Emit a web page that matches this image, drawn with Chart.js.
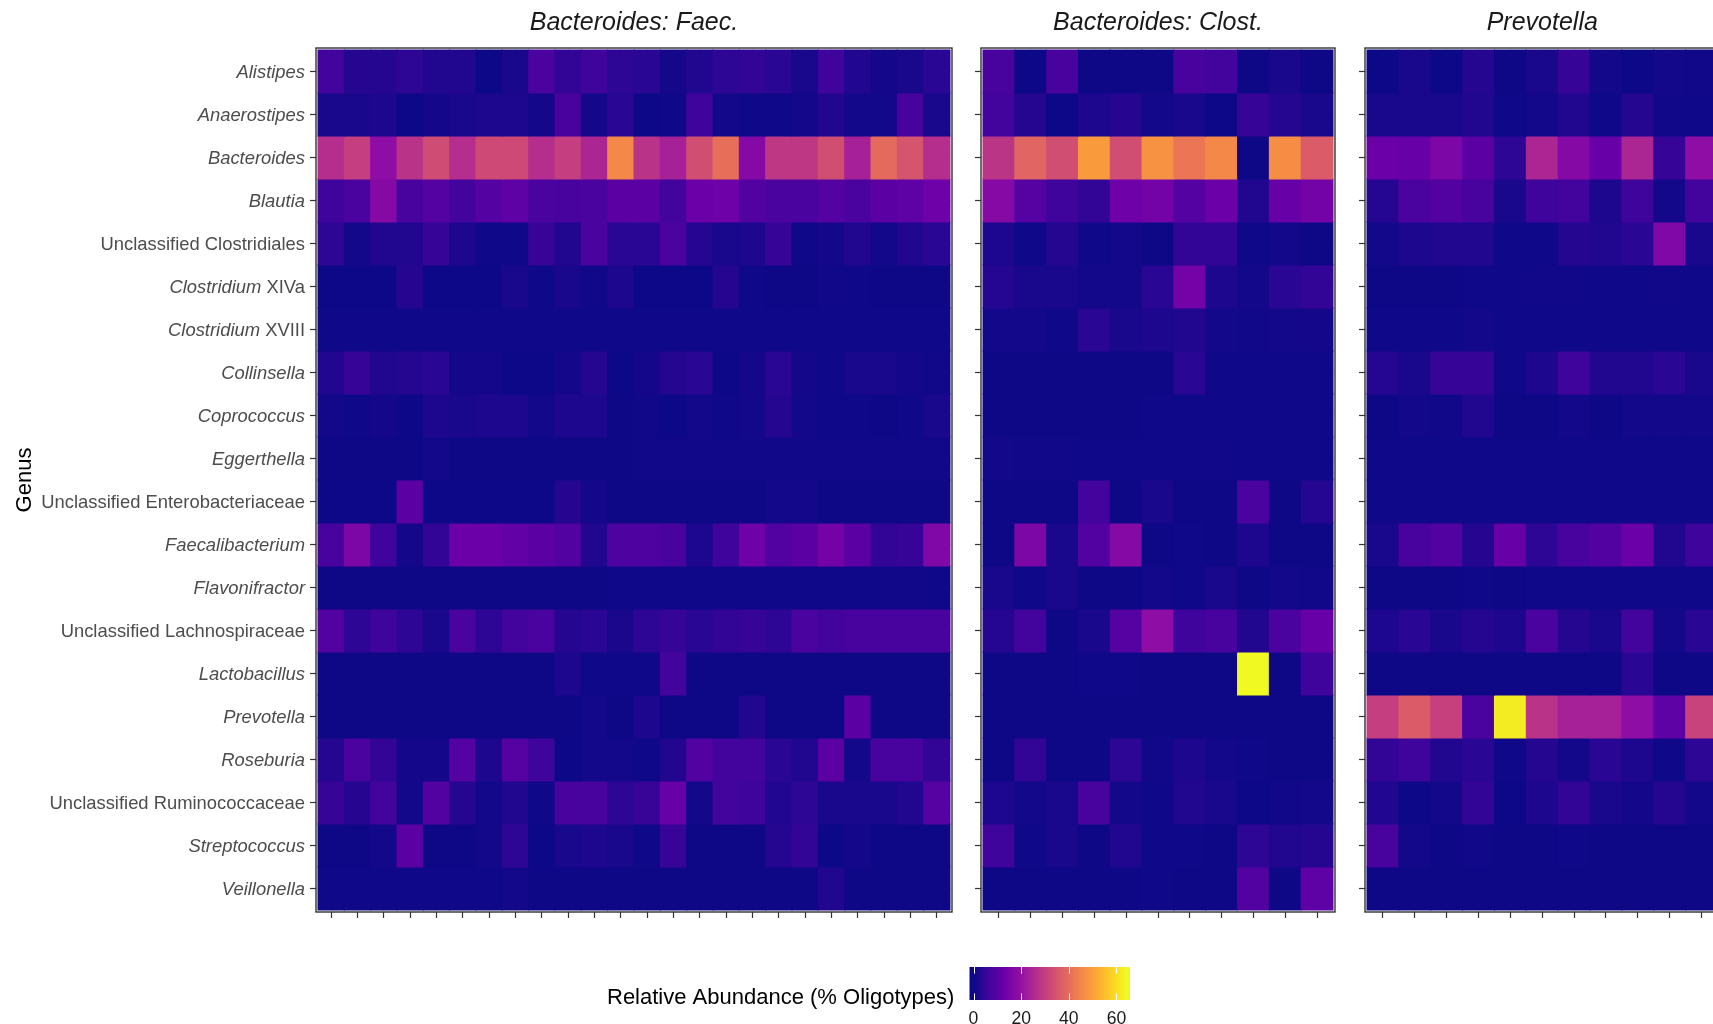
<!DOCTYPE html>
<html><head><meta charset="utf-8">
<script src="https://cdn.jsdelivr.net/npm/chart.js@4.4.1/dist/chart.umd.min.js"></script>
<style>
html,body{margin:0;padding:0;background:#fff;overflow:hidden;width:1713px;height:1024px;}
#wrap{position:relative;width:1713px;height:1024px;overflow:hidden;background:#fff;}
canvas{position:absolute;top:0;}
</style></head><body>
<div id="wrap">
<canvas id="c1" width="1140" height="1024" style="left:0px;width:1140px;height:1024px"></canvas>
<canvas id="c2" width="390" height="1024" style="left:955px;width:390px;height:1024px"></canvas>
<canvas id="c3" width="400" height="1024" style="left:1340px;width:400px;height:1024px"></canvas>
</div>
<script>
// ---------------- DATA ----------------
const genera = ['Alistipes','Anaerostipes','Bacteroides','Blautia','Unclassified Clostridiales',
  'Clostridium XIVa','Clostridium XVIII','Collinsella','Coprococcus','Eggerthella',
  'Unclassified Enterobacteriaceae','Faecalibacterium','Flavonifractor','Unclassified Lachnospiraceae',
  'Lactobacillus','Prevotella','Roseburia','Unclassified Ruminococcaceae','Streptococcus','Veillonella'];

const panelTitles = ['Bacteroides: Faec.', 'Bacteroides: Clost.', 'Prevotella'];
const axisTitle = 'Genus';
const legendTitle = 'Relative Abundance (% Oligotypes)';
const legendTicks = [0, 20, 40, 60];

// rows follow genera order; columns are samples
const faecAbund = [
  [6.5,3,3,4,2.5,2.5,0,1.5,8,4.5,6,4,3.5,1,2.5,4,4.5,3.5,1.5,6,2.5,1,1.5,3.5],
  [1.5,1.5,2,0,1,1.5,2,2,1,7.5,1,3.5,0,0.3,6,0.8,0.3,0.3,1,2.5,0.8,0.8,7.5,1.5],
  [26.5,30,19,27.5,33,26.5,32.5,32.5,26.5,30,24.5,45.5,27.5,23.5,33.5,40.5,17.5,28.5,28.5,33.5,23.5,39.5,35,26.5],
  [6,8,17.5,7.5,9.5,6.5,9.5,11,8,7.5,8,10.5,10.5,6.5,13,13.5,9,8,8,9.5,8,10.5,11,13.5],
  [4,0.8,2.5,2.5,5,2,0.3,0.3,5,2.5,8,3.5,3.5,8,3,1.5,2,5,0.3,1,2.5,0.8,2.5,3.5],
  [0,0,0,3,0,0,0,1.5,0.3,1.5,0.5,2,0,0,0,3,0.3,0.1,0.1,0.5,0.2,0.1,0.1,0.1],
  [0.3,0.3,0.2,0.2,0.2,0.2,0.2,0.2,0.2,0.2,0.2,0.2,0.2,0.2,0.2,0.3,0.3,0.3,0.2,0.2,0.2,0.2,0.3,0.2],
  [2.5,5,2.5,3,3.5,1,1,0,0,1,3,0,1,3,3.5,0,1,3.5,1,0.3,1.5,1.5,1,0.5],
  [0.8,0.3,1,0,2,1.5,2,2,0.8,2,2,0.1,0.5,0,0.8,0.3,0.8,3,0.8,0.3,0.3,0.1,0.3,1.5],
  [0.1,0.1,0.1,0.1,0.8,0.1,0.1,0.1,0.1,0.1,0.1,0.1,0.4,0.4,0.4,0.4,0.4,0.4,0.4,0.4,0.4,0.4,0.4,0.4],
  [0,0,0,10.5,0,0,0,0,0,3,1,0.1,0.1,0.1,0.1,0.1,0.1,0.8,1,0.1,0.1,0.1,0.1,0.1],
  [7.5,16,6,1,4.5,13,13,11.5,10.5,9,2.5,8.5,8.5,7.5,2,6,13.5,9,10.5,14.5,10.5,4.5,5,16.5],
  [0.1,0.1,0.1,0.1,0.1,0.1,0.1,0.1,0.1,0.1,0.1,0.3,0.3,0.3,0.3,0.3,0.3,0.3,0.3,0.3,0.3,0.5,0.5,0.3],
  [9,4,6,4,1.5,8,4,6.5,8,3,3.5,1.5,4,5,3.5,4.5,5,4,8,6.5,7.5,7.5,7.5,7.5],
  [0.1,0.1,0.1,0.1,0.1,0.1,0.1,0.1,0.1,2,0.2,0.2,0.2,6.5,0.1,0.1,0.1,0.1,0.1,0.1,0.1,0.1,0.1,0.1],
  [0.1,0.1,0.1,0.1,0.1,0.1,0.1,0.1,0.1,0.1,0.8,0.1,2,0.1,0.1,0.1,2.5,0.1,0.1,0.1,10.5,0.1,0.1,0.1],
  [3,8,4.5,1,1,9.5,2,9.5,6,0,0.8,0.8,0.2,2.5,9,6.5,6.5,3.5,2.5,10.5,0.8,7.5,7.5,4.5],
  [5,3,6.5,0.8,9,3,0.8,2.5,0.3,7.5,7.5,4,5,12.5,0.8,6.5,6,2.5,4,1.5,1.5,1.5,2.5,9.5],
  [0.1,0.1,0.8,10.5,0.1,0.1,0.8,4,0,1.5,2,1.5,0.3,5,0.1,0.1,0.1,3,4.5,0,1,0.1,0.1,0.1],
  [0.2,0.2,0.2,0.3,0.3,0.3,0.3,0.8,0.1,0.1,0.1,0.1,0.1,0.1,0.1,0.1,0.1,0.1,0.1,2.5,0.1,0.1,0.1,0.1]
];

const clostAbund = [
  [7.5,0,7.5,0.1,0.1,0.1,7.5,6.5,0.1,1.5,0.1],
  [6.5,3,0,2,3,0.8,1.5,0,5,3,1.5],
  [28,38.5,33.5,49,33.5,47.5,42,45.5,0.1,46.5,36.5],
  [17.5,9.5,6,4.5,13.5,14.5,9.5,13,2.5,12,14.5],
  [2,0.3,3,0.3,0.8,0.1,4.5,4.5,0.3,0.8,0.1],
  [3,1.5,1.5,0.8,0.8,3.5,14.5,2,0.8,3.5,4.5],
  [0.8,0.8,0.3,3.5,1.5,2,2.5,0.8,0.5,0.8,1],
  [0.1,0.1,0.1,0.1,0.1,0.1,3.5,0.2,0.2,0.2,0.2],
  [0.1,0.1,0.1,0.1,0.1,0.2,0.2,0.2,0.3,0.3,0.2],
  [0.8,0.5,0.5,0.3,0.3,0.3,0.3,0.5,0.3,0.3,0.3],
  [0.1,0.1,0.1,6.5,0.1,1.5,0.1,0.1,8,0.1,3],
  [0.1,16,1.5,9,17.5,0.1,0.3,0.1,2,0.1,0.1],
  [1.5,0.3,1.5,0.1,0.1,0.8,0.2,1.5,0.1,0.8,0.5],
  [3,6.5,0.1,1.5,9.5,19,6,7.5,2.5,8,12.5],
  [0.1,0.1,0.1,0.3,0.2,0.1,0.1,0.1,64,0.1,6],
  [0.1,0.1,0.1,0.1,0.1,0.1,0.1,0.1,0.1,0.1,0.1],
  [0.1,4.5,0.1,0.1,4,0.5,2,0.8,0.3,0.1,0.1],
  [2,0.8,1.5,7.5,0.8,0.2,2.5,1.5,0,0.5,0.8],
  [6,0.2,1.5,0.1,2.5,0.3,0.2,0.1,4,2.5,3],
  [0.1,0.1,0.1,0.1,0.1,0.3,0.1,0.1,9,0.1,11]
];

const prevAbund = [
  [0,1.5,0,3,0.1,1.5,5,0.8,0,0.8,0.5],
  [1.5,1.5,1.5,2.5,0.3,0.8,2.5,0.3,3,0.5,0.3],
  [13,12.5,16,10.5,4,24.5,17.5,12.5,24.5,5,19],
  [3,8,9,7.5,1.5,6,6.5,2,6,0.8,6.5],
  [0.8,2,2.5,2.5,0.2,0.2,3,2.5,3.5,16.5,1.5],
  [0.1,0.1,0.1,0.2,0.2,0.5,0.5,0.2,0.2,0.5,0.3],
  [0.2,0.2,0.2,0.8,0.2,0.3,0.3,0.2,0.2,0.3,0.3],
  [3,1.5,5,5,0.2,2,6,2.5,2.5,3.5,1.5],
  [0.1,0.8,0.5,2.5,0.1,0.1,0.8,0.1,0.8,0.8,0.8],
  [0.2,0.2,0.2,0.2,0.2,0.2,0.2,0.2,0.2,0.2,0.2],
  [0.2,0.2,0.2,0.2,0.2,0.2,0.2,0.2,0.2,0.2,0.2],
  [1.5,7.5,9,3,12,4,7.5,9,13,2.5,6],
  [0.1,0.1,0.1,0.3,0.1,0.2,0.3,0.2,0.2,0.2,0.2],
  [2,3.5,1.5,3,2,8,3,1.5,6.5,0.8,3.5],
  [0.1,0.1,0.1,0.1,0.1,0.1,0.1,0.1,3.5,0.1,0.1],
  [30,36.5,30.5,8,62,27.5,23.5,23.5,19,11,31],
  [4.5,6,2.5,3.5,0.3,3,0.8,3.5,2,0.3,4],
  [2.5,0,0.8,4.5,0,2,4.5,1.5,1,3,0.8],
  [7.5,0.8,0.1,0.5,0.1,0.1,0.2,0.1,0.1,0.1,0.1],
  [0.1,0.1,0.1,0.1,0.1,0.1,0.1,0.1,0.1,0.1,0.1]
];

// ---------------- COLOUR MAP (plasma) ----------------
const plasmaStops = ['#0d0887','#41049d','#6a00a8','#8f0da4','#b12a90','#cc4778',
                     '#e16462','#f2844b','#fca636','#fcce25','#f0f921'];
const allVals = [].concat(...faecAbund, ...clostAbund, ...prevAbund);
const vMin = Math.min(...allVals), vMax = Math.max(...allVals);
function hex2rgb(h){ return [1,3,5].map(i => parseInt(h.substr(i,2),16)); }
const stopRGB = plasmaStops.map(hex2rgb);
function plasmaAt(t){
  t = Math.max(0, Math.min(1, t));
  const p = t * (stopRGB.length - 1);
  const i = Math.min(Math.floor(p), stopRGB.length - 2);
  const f = p - i;
  const a = stopRGB[i], b = stopRGB[i+1];
  const c = a.map((v,k) => Math.round(v + (b[k]-v)*f));
  return 'rgb(' + c.join(',') + ')';
}
function colorFor(v){ return plasmaAt((v - vMin) / (vMax - vMin)); }

// ---------------- STYLE ----------------
const FONT = '"Liberation Sans", Arial, Helvetica, sans-serif';
const TOP = 48, XAXIS_H = 112, GAP = 2;

function labelParts(name){
  if (name.startsWith('Unclassified ')) return [[name, false]];
  const m = name.match(/^(\S+)( [XVI]+a?)$/);
  if (m) return [[m[1], true], [m[2], false]];
  return [[name, true]];
}

const panelDeco = {
  id: 'panelDeco',
  afterDatasetsDraw(chart, args, opts){
    const {ctx, chartArea: a} = chart;
    ctx.save();
    ctx.strokeStyle = '#333333';
    ctx.lineWidth = 1.4;
    ctx.strokeRect(a.left, a.top, a.right - a.left, a.bottom - a.top);
    ctx.fillStyle = '#1a1a1a';
    ctx.font = 'italic 25px ' + FONT;
    ctx.textAlign = 'center';
    ctx.textBaseline = 'alphabetic';
    ctx.fillText(opts.title, (a.left + a.right) / 2, 29.5);
    ctx.restore();
  }
};

const axisDeco = {
  id: 'axisDeco',
  afterDraw(chart){
    const {ctx, chartArea: a} = chart;
    const yScale = chart.scales.y;
    ctx.save();
    // genus labels
    ctx.fillStyle = '#4d4d4d';
    ctx.textBaseline = 'alphabetic';
    ctx.textAlign = 'left';
    const rightX = 305;
    genera.forEach((g, r) => {
      const parts = labelParts(g);
      let total = 0;
      const widths = parts.map(([t, it]) => {
        ctx.font = (it ? 'italic ' : '') + '18.4px ' + FONT;
        const w = ctx.measureText(t).width; total += w; return w;
      });
      let x = rightX - total;
      const y = yScale.getPixelForValue(r) + 6.6;
      parts.forEach(([t, it], k) => {
        ctx.font = (it ? 'italic ' : '') + '18.4px ' + FONT;
        ctx.fillText(t, x, y);
        x += widths[k];
      });
    });
    // axis title
    ctx.fillStyle = '#000000';
    ctx.font = '22px ' + FONT;
    ctx.save();
    ctx.translate(31, (a.top + a.bottom) / 2);
    ctx.rotate(-Math.PI / 2);
    ctx.textAlign = 'center';
    ctx.fillText(axisTitle, 0, 0);
    ctx.restore();

    // colour bar legend
    const x0 = 969.5, x1 = 1130, y0 = 967, y1 = 1000, nbin = 20;
    const pos = v => x0 + (0.5 + (nbin - 1) * (v - vMin) / (vMax - vMin)) / nbin * (x1 - x0);
    const xa = pos(vMin), xb = pos(vMax);
    const grad = ctx.createLinearGradient(xa, 0, xb, 0);
    for (let i = 0; i <= 40; i++) grad.addColorStop(i / 40, plasmaAt(i / 40));
    ctx.fillStyle = grad;
    ctx.fillRect(x0, y0, x1 - x0, y1 - y0);
    ctx.strokeStyle = '#ffffff';
    ctx.lineWidth = 1;
    legendTicks.forEach(v => {
      const x = Math.round(pos(v)) + 0.5;
      ctx.beginPath();
      ctx.moveTo(x, y0); ctx.lineTo(x, y0 + 6.6);
      ctx.moveTo(x, y1 - 6.6); ctx.lineTo(x, y1);
      ctx.stroke();
    });
    ctx.fillStyle = '#1a1a1a';
    ctx.font = '17.6px ' + FONT;
    ctx.textAlign = 'center';
    legendTicks.forEach(v => ctx.fillText(String(v), pos(v), 1023.5));
    ctx.fillStyle = '#000000';
    ctx.font = '22px ' + FONT;
    ctx.textAlign = 'left';
    ctx.fillText(legendTitle, 607, 1004);
    ctx.restore();
  }
};

function makePanel(id, values, title, yWidth, areaW, padRight, extraPlugins){
  const nCols = values[0].length;
  const nRows = genera.length;
  const areaH = 1024 - XAXIS_H - TOP;
  const padX = GAP * nCols / (areaW - 2 * GAP);
  const padY = GAP * nRows / (areaH - 2 * GAP);
  const colIdx = values[0].map((_, c) => c);
  const rowIdx = genera.map((_, r) => r);
  const datasets = genera.map((g, r) => ({
    label: g,
    data: values[r].map((v, c) => ({x: c, y: [r - 0.5, r + 0.5]})),
    backgroundColor: values[r].map(colorFor),
    borderWidth: 0,
    barPercentage: 1,
    categoryPercentage: 1,
    grouped: false,
    inflateAmount: 0.5
  }));
  const gridOpts = () => ({color: '#ebebeb', lineWidth: 1, drawTicks: true, tickLength: 6,
                    tickColor: '#333333', tickWidth: 1.2, offset: false});
  return new Chart(document.getElementById(id), {
    type: 'bar',
    data: {datasets},
    options: {
      responsive: false,
      animation: false,
      devicePixelRatio: 1,
      events: [],
      layout: {padding: {top: TOP, right: padRight, left: 0, bottom: 0}},
      plugins: {legend: {display: false}, tooltip: {enabled: false}, title: {display: false},
                panelDeco: {title}},
      scales: {
        x: {
          type: 'linear', position: 'bottom', offset: false,
          min: -0.5 - padX, max: nCols - 0.5 + padX,
          ticks: {display: false},
          grid: gridOpts(), border: {display: false},
          afterBuildTicks: s => { s.ticks = colIdx.map(v => ({value: v})); },
          afterFit: s => { s.height = XAXIS_H; }
        },
        y: {
          type: 'linear', position: 'left', reverse: true,
          min: -0.5 - padY, max: nRows - 0.5 + padY,
          ticks: {display: false},
          grid: gridOpts(), border: {display: false},
          afterBuildTicks: s => { s.ticks = rowIdx.map(v => ({value: v})); },
          afterFit: s => { s.width = yWidth; }
        }
      }
    },
    plugins: [panelDeco].concat(extraPlugins || [])
  });
}

// panel 1: canvas 0..1140, area 316..952
makePanel('c1', faecAbund, panelTitles[0], 316, 636, 1140 - 952, [axisDeco]);
// panel 2: canvas 955..1345, area 981..1335
makePanel('c2', clostAbund, panelTitles[1], 26, 354, 10);
// panel 3: canvas 1340..1740, area 1365..1719.5
makePanel('c3', prevAbund, panelTitles[2], 25, 354.5, 20.5);
</script>
</body></html>
